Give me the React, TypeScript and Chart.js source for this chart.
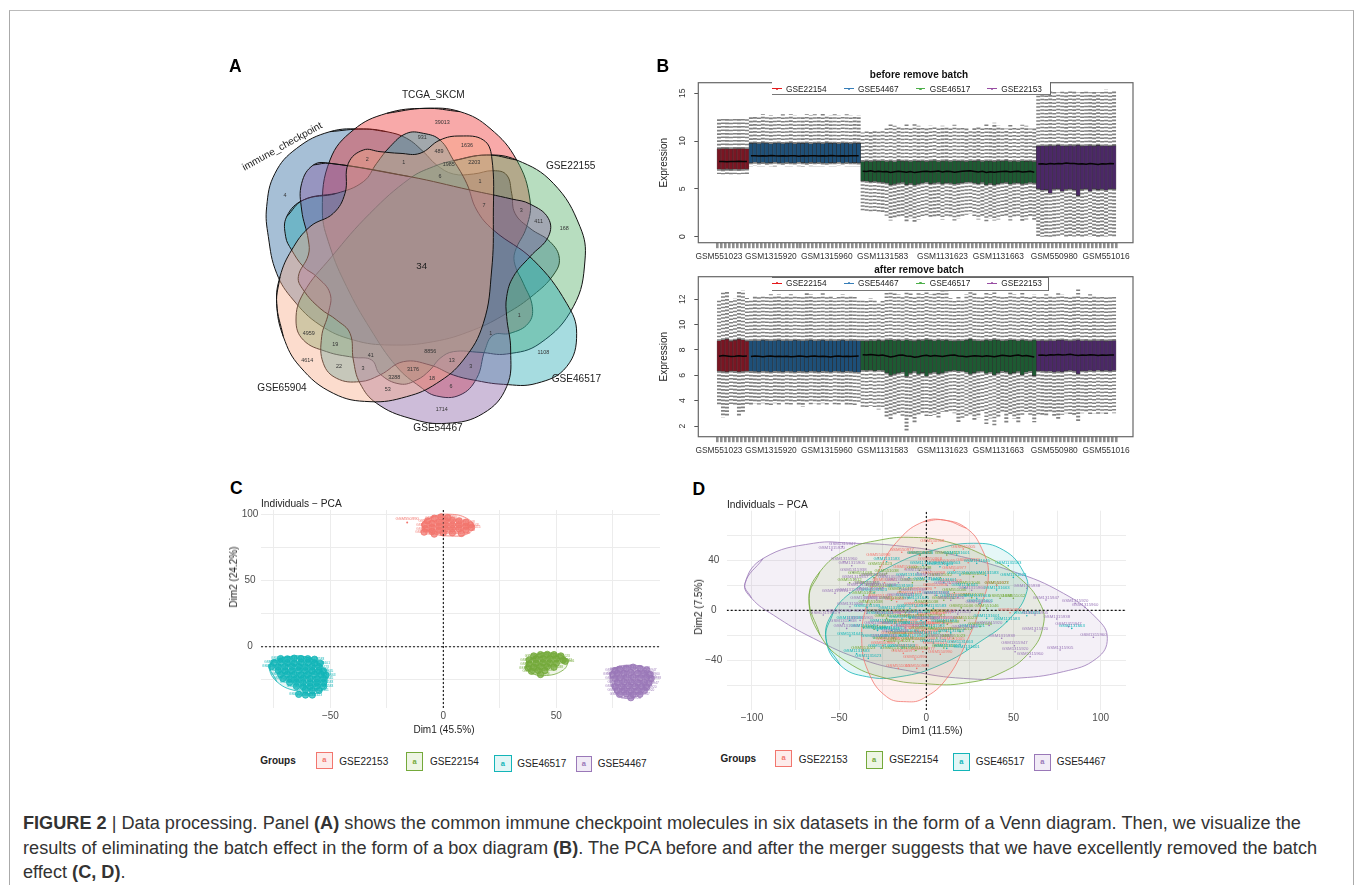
import React, { useEffect, useRef } from "react";
import { Chart, registerables } from "chart.js";
Chart.register(...registerables);

const FONT = "'Liberation Sans', Arial, sans-serif";

// ---------- Panel A : Venn outlines (axis units of a 0..1200 square)
const vennNames = ["TCGA_SKCM", "GSE22155", "GSE46517", "GSE54467", "GSE65904", "immune_checkpoint"];
const vennRed = [[615,175],[720,185],[810,235],[890,330],[930,450],[920,530],[885,605],[885,645],[910,700],[937,770],[925,820],[870,850],[820,855],[795,900],[770,985],[720,1035],[650,1038],[600,1010],[530,950],[450,835],[380,710],[330,590],[307,480],[330,330],[400,240],[500,190],[615,175]];
const vennGreen = [[800,315],[890,330],[1000,400],[1080,530],[1095,630],[1060,770],[960,880],[860,912],[780,907],[700,905],[660,925],[630,960],[590,990],[540,1002],[480,972],[455,930],[400,922],[320,905],[250,870],[228,810],[250,730],[335,620],[450,490],[570,385],[640,350],[700,332],[800,315]];
const vennTeal = [[250,450],[200,500],[197,560],[215,600],[250,650],[290,680],[330,730],[325,790],[305,860],[310,940],[350,985],[420,995],[480,975],[550,935],[630,945],[700,975],[760,990],[850,1003],[950,1000],[1040,950],[1070,850],[1040,760],[940,630],[820,540],[770,480],[740,400],[700,330],[660,270],[610,250],[560,250],[510,290],[470,340],[430,395],[350,430],[250,450]];
const vennPurple = [[330,340],[570,380],[750,420],[875,447],[930,462],[985,505],[985,560],[930,620],[880,680],[860,740],[860,800],[872,900],[860,1010],[790,1090],[680,1120],[570,1105],[470,1060],[420,1000],[400,930],[390,850],[350,810],[300,775],[250,720],[235,680],[265,615],[265,570],[245,480],[245,400],[280,345],[330,340]];
const vennOrange = [[170,760],[180,680],[215,600],[270,530],[340,490],[375,430],[385,340],[430,300],[480,305],[540,310],[600,310],[660,270],[720,258],[790,270],[815,320],[820,500],[815,660],[790,820],[730,930],[650,1000],[560,1040],[450,1055],[340,1030],[240,950],[190,860],[170,760]];
const vennBlue = [[430,237],[500,245],[560,265],[610,305],[650,345],[700,372],[760,372],[820,362],[860,375],[875,430],[885,490],[930,535],[990,575],[1018,625],[1000,675],[940,735],[860,790],[760,840],[640,875],[510,885],[400,870],[300,825],[220,750],[170,670],[145,560],[140,470],[165,370],[230,295],[330,245],[430,237]];
const vennCountText = ["39013","931","1636","489","2","1","1985","2203","6","1","4","7","3","411","168","1","1","4959","19","1108","8856","41","4614","13","22","3","3","3176","3288","18","53","6","1714"];
const vennCountPos = [[667,218],[607,263],[741,288],[657,306],[442,330],[551,339],[686,345],[763,339],[660,380],[780,394],[195,437],[792,466],[904,481],[956,516],[1033,537],[898,798],[812,850],[266,850],[346,884],[970,907],[631,904],[452,916],[262,932],[695,932],[357,951],[429,956],[752,949],[579,960],[523,984],[636,985],[503,1020],[693,1010],[665,1078]];
const vennNamePos = [[640,137],[1052,349],[1069,988],[654,1135],[186,1016],[187,290]];

// ---------- Panel B : box plots
const boxGroups = ["GSE22154", "GSE54467", "GSE46517", "GSE22153"];
const boxCounts = [8, 28, 44, 20];
const boxColors = ["#7a1522", "#1d4f78", "#1d5a32", "#4b2767"];
const legendColors = ["#e41a1c", "#377eb8", "#4daf4a", "#984ea3"];
const sampleTickIndex = [0, 13, 27, 41, 56, 70, 84, 97];
const sampleTickNames = ["GSM551023", "GSM1315920", "GSM1315960", "GSM1131583", "GSM1131623", "GSM1131663", "GSM550980", "GSM551016"];
const b1YTicks = [0, 5, 10, 15];
const b2YTicks = [2, 4, 6, 8, 10, 12];

const b1Top = [12.3,12.4,12.5,12.4,12.5,12.5,12.4,12.4,
12.6,12.7,12.6,12.8,12.7,12.7,12.6,12.7,12.8,12.7,12.8,12.7,12.6,12.6,12.8,12.7,12.8,12.7,12.9,12.7,12.7,12.8,12.7,12.6,12.8,12.7,12.7,12.7,
10.9,11.0,11.1,11.2,11.0,11.1,11.3,11.8,11.6,11.5,11.4,11.8,11.5,11.9,11.6,11.4,11.3,11.6,11.5,11.4,11.6,11.4,11.5,11.7,11.5,11.4,11.3,11.2,11.4,11.6,11.3,11.8,11.5,11.9,11.6,11.4,11.3,11.7,11.5,11.4,11.7,11.6,11.3,11.4,
15.0,15.2,15.1,15.3,15.2,15.1,15.2,15.1,15.2,15.2,15.1,15.2,15.3,15.1,15.2,15.1,15.3,15.4,15.2,15.2];
const b1Q3 = [9.18,9.22,9.2,9.19,9.21,9.2,9.22,9.19,
9.75,9.78,9.74,9.8,9.76,9.72,9.77,9.79,9.74,9.76,9.8,9.73,9.77,9.75,9.79,9.72,9.76,9.78,9.74,9.8,9.75,9.77,9.73,9.79,9.76,9.74,9.78,9.75,
7.85,7.9,7.84,7.92,7.88,7.94,7.86,7.9,7.83,7.95,7.88,7.9,7.85,7.93,7.87,7.91,7.84,7.9,7.96,7.86,7.89,7.92,7.85,7.94,7.88,7.9,7.84,7.93,7.87,7.95,7.86,7.91,7.89,7.84,7.92,7.88,7.95,7.86,7.9,7.85,7.93,7.87,7.9,7.84,
9.45,9.5,9.47,9.52,9.48,9.55,9.5,9.46,9.53,9.49,9.55,9.47,9.5,9.52,9.46,9.54,9.48,9.5,9.45,9.52];
const b1Q1 = [7.05,7.02,7.07,7.04,7.06,7.03,7.05,7.08,
7.74,7.78,7.72,7.76,7.7,7.75,7.78,7.73,7.69,7.76,7.74,7.71,7.78,7.75,7.7,7.77,7.73,7.76,7.72,7.68,7.75,7.74,7.78,7.71,7.76,7.73,7.75,7.72,
5.85,5.8,5.75,5.78,5.72,5.68,5.62,5.42,5.5,5.6,5.66,5.45,5.58,5.4,5.52,5.62,5.7,5.55,5.6,5.66,5.52,5.64,5.6,5.48,5.58,5.64,5.7,5.72,5.62,5.54,5.66,5.44,5.58,5.42,5.54,5.62,5.68,5.48,5.6,5.64,5.5,5.56,5.66,5.6,
5.0,4.85,4.92,4.55,4.98,5.02,4.75,4.95,5.0,4.9,4.3,4.95,5.02,4.78,5.0,4.92,4.98,4.85,5.02,4.98];
const b1Med = [7.85,7.87,7.84,7.86,7.85,7.88,7.85,7.86,
8.45,8.47,8.43,8.46,8.44,8.48,8.45,8.43,8.46,8.44,8.47,8.45,8.42,8.46,8.44,8.47,8.45,8.43,8.46,8.44,8.48,8.45,8.43,8.46,8.44,8.47,8.45,8.46,
6.85,6.82,6.88,6.8,6.84,6.78,6.82,6.72,6.78,6.84,6.8,6.74,6.82,6.7,6.76,6.82,6.84,6.78,6.82,6.86,6.76,6.84,6.82,6.74,6.8,6.84,6.86,6.88,6.82,6.76,6.84,6.72,6.8,6.74,6.78,6.82,6.84,6.76,6.82,6.84,6.76,6.8,6.84,6.74,
7.6,7.62,7.58,7.64,7.6,7.66,7.62,7.7,7.64,7.66,7.6,7.62,7.58,7.64,7.6,7.56,7.62,7.6,7.64,7.62];
const b1Bot = [6.55,6.52,6.56,6.54,6.55,6.53,6.56,6.54,
7.35,7.38,7.34,7.36,7.33,7.37,7.35,7.38,7.32,7.36,7.34,7.33,7.37,7.35,7.34,7.36,7.33,7.37,7.35,7.32,7.36,7.34,7.38,7.33,7.36,7.35,7.37,7.34,
2.7,2.6,2.6,2.5,2.5,2.4,2.2,1.7,1.9,2.1,2.0,1.6,1.9,1.5,1.8,2.1,2.2,1.9,2.0,2.2,1.8,2.1,2.0,1.7,1.9,2.1,2.3,2.4,2.1,1.8,2.0,1.6,1.9,1.7,1.8,2.0,2.2,1.7,2.0,2.1,1.5,1.8,2.0,1.7,
0.02,0.0,0.03,0.0,0.02,0.0,0.01,0.03,0.0,0.02,0.0,0.01,0.03,0.0,0.02,0.0,0.01,0.03,0.0,0.02];

const b2Top = [12.0,12.6,12.7,12.0,12.1,12.6,12.7,12.1,
11.9,12.3,12.2,12.3,12.3,12.4,12.3,12.4,12.3,12.2,12.4,12.3,12.2,12.2,12.5,12.4,12.3,12.2,12.5,12.3,12.2,12.1,12.3,12.4,12.2,12.3,12.2,12.0,
12.0,11.9,12.1,12.0,11.8,12.0,12.7,12.6,12.5,12.4,12.3,12.9,12.5,12.3,12.6,12.4,12.8,12.4,12.5,12.8,12.7,12.7,12.1,12.0,12.2,12.0,12.4,12.8,12.5,12.3,12.2,12.6,12.4,12.9,12.3,12.2,12.3,12.6,12.4,12.3,12.8,12.3,12.2,12.4,
12.2,12.3,12.4,12.3,12.2,12.6,12.4,12.3,12.2,12.3,12.8,12.3,12.2,12.4,12.3,12.2,12.3,12.2,12.3,12.2];
const b2Q3 = [8.72,8.8,8.85,8.7,8.76,8.85,8.8,8.7,
8.72,8.75,8.73,8.76,8.74,8.72,8.75,8.77,8.73,8.75,8.72,8.76,8.74,8.73,8.75,8.77,8.72,8.74,8.76,8.73,8.75,8.72,8.74,8.76,8.73,8.75,8.74,8.72,
8.72,8.7,8.74,8.72,8.76,8.7,8.78,8.8,8.74,8.76,8.72,8.8,8.74,8.7,8.76,8.74,8.82,8.76,8.72,8.78,8.74,8.76,8.72,8.7,8.74,8.72,8.76,8.84,8.74,8.72,8.7,8.78,8.74,8.82,8.76,8.72,8.74,8.8,8.76,8.72,8.78,8.74,8.7,8.78,
8.72,8.74,8.7,8.75,8.72,8.76,8.78,8.74,8.7,8.75,8.78,8.72,8.74,8.7,8.75,8.72,8.74,8.7,8.72,8.74];
const b2Q1 = [6.34,6.3,6.28,6.35,6.32,6.28,6.3,6.35,
6.32,6.3,6.28,6.33,6.3,6.27,6.32,6.3,6.28,6.33,6.3,6.27,6.32,6.3,6.28,6.33,6.3,6.28,6.32,6.3,6.27,6.33,6.3,6.28,6.32,6.3,6.27,6.25,
6.4,6.38,6.42,6.36,6.4,6.38,6.2,6.0,6.1,6.2,6.25,5.92,6.18,6.3,6.1,6.22,5.95,6.18,6.26,6.12,6.2,6.3,6.36,6.38,6.32,6.36,6.25,6.1,6.22,6.3,6.35,6.15,6.25,6.05,6.2,6.32,6.28,6.12,6.22,6.3,6.05,6.24,6.32,5.98,
6.36,6.34,6.3,6.32,6.26,6.3,6.28,6.36,6.38,6.34,6.12,6.36,6.34,6.38,6.35,6.4,6.36,6.38,6.35,6.38];
const b2Med = [7.5,7.56,7.52,7.48,7.5,7.54,7.5,7.52,
7.48,7.52,7.5,7.47,7.5,7.53,7.49,7.51,7.48,7.5,7.46,7.49,7.52,7.5,7.47,7.5,7.53,7.49,7.51,7.48,7.44,7.5,7.52,7.49,7.51,7.48,7.5,7.52,
7.62,7.6,7.64,7.6,7.56,7.6,7.52,7.44,7.5,7.58,7.6,7.52,7.5,7.42,7.46,7.54,7.58,7.5,7.56,7.52,7.48,7.54,7.58,7.6,7.52,7.5,7.46,7.5,7.54,7.52,7.48,7.54,7.5,7.46,7.52,7.58,7.54,7.5,7.56,7.6,7.52,7.56,7.5,7.44,
7.58,7.6,7.56,7.62,7.6,7.64,7.6,7.62,7.66,7.6,7.56,7.6,7.58,7.62,7.6,7.56,7.6,7.58,7.6,7.6];
const b2Bot = [3.6,2.7,2.8,3.7,3.6,2.7,3.0,3.7,
3.7,3.8,3.7,3.8,3.7,3.6,3.8,3.7,3.8,3.6,3.7,3.8,3.7,3.5,3.8,3.7,3.8,3.7,3.8,3.7,3.8,3.6,3.7,3.8,3.7,3.7,3.6,3.8,
3.5,3.4,3.6,3.5,3.3,3.4,2.7,2.5,2.8,3.0,2.7,1.6,2.6,2.3,2.9,3.0,2.7,2.8,2.9,2.6,3.1,3.0,3.2,3.0,2.2,2.6,2.8,2.9,2.5,2.7,3.1,2.0,2.6,2.0,2.7,3.0,2.2,2.9,2.6,2.3,2.8,3.1,2.9,2.3,
2.9,2.8,2.8,3.0,2.7,2.5,2.9,3.0,2.9,2.8,2.3,3.0,3.1,2.9,3.0,2.9,3.0,2.9,3.1,3.0];

// ---------- Panels C, D : PCA
const pcaGroups = ["GSE22153", "GSE22154", "GSE46517", "GSE54467"];
const pcaColors = ["#f2766e", "#74a93a", "#13b5b8", "#9a78b8"];
const pcaTints = ["#fdeceb", "#eef5e4", "#e2f6f6", "#f1ebf6"];
const cGridX = [-75, -50, -25, 0, 25, 50, 75];
const cGridY = [-25, 0, 25, 50, 75, 100];
const cLabelX = [-50, 0, 50];
const cLabelY = [0, 50, 100];
const dGridX = [-100, -75, -50, -25, 0, 25, 50, 75, 100];
const dGridY = [-60, -40, -20, 0, 20, 40, 60];
const dLabelX = [-100, -50, 0, 50, 100];
const dLabelY = [-40, 0, 40];
const groupIds = [
  ["GSM550968", "GSM551005", "GSM550977", "GSM550990", "GSM551015"],
  ["GSM551023", "GSM551038", "GSM551012", "GSM551046"],
  ["GSM1131583", "GSM1131623", "GSM1131663", "GSM1131601", "GSM1131645"],
  ["GSM1315947", "GSM1315920", "GSM1315960", "GSM1315905", "GSM1315938"],
];

const cOutlier = [[-16,93.7]];
const cOutlierId = ["GSM550990"];
const cRed = [[-7,95],[-4,97],[-1,98],[2,97.5],[-8,92],[-5,93],[-2,94],[1,95],[4,95.5],[7,95],[10,94],[12,92],[-8,89],[-5,90],[-2,91],[1,92],[4,92],[7,92],[10,91],[12.5,90],[-8.5,86.5],[-5,87],[-2,88],[1,89],[4,89],[7,89],[10,88],[-4,85],[0,86],[4,86],[8,85.5]];
const cGreen = [[40,-7],[43,-6],[46,-5.8],[49,-6],[52,-7],[38,-10],[41,-9.5],[44,-9],[47,-9],[50,-9],[53,-10],[54,-11],[38,-13],[41,-12.5],[44,-12],[47,-12],[50,-12.5],[37.5,-16],[40,-15.5],[43,-15],[46,-15],[49,-15.5],[39,-18.5],[42,-18],[45,-18],[43,-21]];
const cTeal = [[-72,-9],[-69,-9.2],[-66,-8.7],[-63,-9],[-60,-9.1],[-57,-9.5],[-75,-12],[-72,-11.8],[-69,-12],[-66,-12.2],[-63,-11.8],[-60,-12],[-57,-12.3],[-54.5,-12.5],[-76,-15],[-73,-15.2],[-70,-15],[-67,-14.8],[-64,-15],[-61,-15.2],[-58,-15],[-55,-15.3],[-73,-18],[-70,-18.2],[-67,-18],[-64,-17.8],[-61,-18],[-58,-18.2],[-55,-18],[-53,-18.5],[-72,-21],[-69,-20.8],[-66,-21],[-63,-21.2],[-60,-21],[-57,-20.8],[-54,-21],[-52,-21.5],[-71,-24],[-68,-24.2],[-65,-24],[-62,-23.8],[-59,-24],[-56,-24.2],[-53,-24],[-68,-27],[-65,-26.8],[-62,-27],[-59,-27.2],[-56,-27],[-53,-27],[-65,-30],[-62,-30.2],[-59,-30],[-56,-29.8],[-53,-30],[-61,-32.5],[-58,-33],[-55,-33],[-64,-36],[-61,-36.5],[-58,-36.5]];
const cPurple = [[76,-18],[78,-17],[81,-16.5],[84,-15.5],[87,-16.5],[90,-17.5],[75,-21],[77,-20],[80,-20],[83,-19.5],[86,-20],[89,-20],[91.5,-21],[76,-24],[78,-23.5],[81,-23],[84,-23],[87,-23.5],[90,-23],[92,-24],[77,-27],[80,-26.5],[83,-26.5],[86,-27],[89,-27],[91,-27.5],[76,-30],[79,-30],[82,-29.5],[85,-30],[88,-30],[90,-30.5],[77,-33],[80,-32.5],[83,-33],[86,-33],[89,-33],[78,-36],[81,-35.5],[84,-36],[87,-36],[83,-38.5]];
const cEllRed = [[-9.6,92],[-4.4,98.2],[2.9,100],[10.3,97],[13.3,90.7],[10.3,84.9],[2.9,83.6],[-4.4,85.6],[-9.6,92]];
const cEllGreen = [[36.9,-13.9],[41.3,-6.3],[48.7,-5],[54.6,-10],[53.1,-17.6],[44.2,-21.9],[38.3,-18.9],[36.9,-13.9]];
const cEllTeal = [[-76.7,-13.9],[-70.8,-8.3],[-59,-8.8],[-51.6,-21.4],[-54.6,-34],[-63.4,-34],[-73.7,-26.4],[-76.7,-13.9]];
const cEllPurple = [[74.5,-18.9],[83.3,-13.9],[91.4,-18.9],[92.2,-26.4],[88.5,-34],[81.9,-39],[76,-34],[74.5,-18.9]];

const dRed = [[3.4,53.5],[21.2,48.9],[-14.1,46.3],[-27.5,42],[9.8,37.5],[4,28.2],[13.6,21.5],[40.3,19.7],[48,-1.9],[-7.5,-13],[-18.9,-19.7],[-11.3,-30.3],[-13.2,-34.3],[-6.5,-38.8],[-16.1,-46.3],[-5.5,-46.3],[0.2,-9],[7.8,-3.7],[-3.6,-19.7],[11.7,-17],[2.1,38.8],[-26.6,9.6],[-17,6.9],[-3.6,14.9],[-9.4,-14.4],[-1.7,-25],[-2,-13],[3,-12],[-6,-16],[8,-12],[-12,-10],[15,-25],[-20,-12],[-25,-28],[5,-28],[-8,-6],[2,-5],[-14,-24],[-4,44],[14,-8],[-6,3],[10,-2],[18,10],[-15,-3],[-10,12],[5,18],[-22,-25],[-2,-33],[8,-35],[-10,-20],[0,-18],[-24,22],[16,32],[24,38],[-12,33]];
const dGreen = [[-26.6,34.8],[-22.8,29.5],[27,26.9],[24.1,20.2],[40.3,20.2],[42.3,9.6],[49.9,9.6],[34.6,1.6],[-36.1,-31.6],[-18.9,-31.6],[19.3,-17],[30.8,-13],[7.8,-17],[-26.6,17.6],[-15.1,14.9],[-34.2,20.2],[-22.8,-6.4],[-9.4,-6.4],[4,-6.4],[-7.5,-25],[15.5,-22.3],[-3.6,44.1],[11.7,44.1],[-30,-15],[-15,-20],[0,5],[10,8],[20,2],[-8,22],[-32,5],[-2,-16],[6,-22],[-18,-10],[12,-11],[-36,12],[-28,-2],[-20,8],[-12,-2],[6,-2],[16,14],[26,10],[-4,32],[8,26],[-30,26],[-16,-26],[-6,-32],[10,-30],[-24,-24],[22,-8],[-38,28],[-44,22]];
const dTeal = [[-22.8,38.8],[-3.6,44.1],[7.8,34.8],[17.4,44.1],[28.9,37.5],[47,35.6],[49.9,26.3],[40.3,16.2],[19.3,28.2],[0.2,22.9],[-15.1,17.6],[-26.6,-3.7],[-17,-11.7],[-22.8,-17],[-43.8,-20.5],[-40,-34.6],[-33.3,-38.3],[19.3,-27.1],[23.1,-30.9],[11.7,-30.3],[46.1,-9],[57.6,-4.3],[83.4,-14.4],[34.6,-6.4],[-9.4,1.6],[4,1.6],[15.5,9.6],[28.9,9.6],[30.8,5.6],[0.2,-19.7],[-7.5,-11.7],[-18.9,-22.3],[-12,-18],[-5,-3],[-25,-10],[10,-10],[-3,-8],[-30,-22],[-14,-7],[-20,-16],[3,-14],[-28,-16],[-10,26],[6,12],[-6,8],[-34,2],[-20,0],[-10,10],[10,22],[22,18],[34,28],[-30,14],[12,36],[-26,-30],[-8,-22],[-14,-30],[4,-26],[14,-18],[26,-14],[-36,-14],[-44,-8],[-2,36]];
const dPurple = [[-48.2,50.8],[-54.3,48.1],[-47.2,38.8],[-42.8,35.6],[-41.9,30.3],[-40.9,25],[-52.4,13.6],[-43.8,2.9],[-59.1,-3.7],[-47.6,-10.4],[-45.7,-14.4],[-32.3,14.9],[-28.5,8.2],[-34.2,-2.4],[57.6,17.6],[68.6,8.2],[85.3,5.6],[91,2.4],[62.3,-3.7],[74.8,-6.9],[81.5,-13],[62.3,-16.5],[95.8,-21.5],[76.7,-31.6],[43.2,-22.3],[50.5,-28.2],[50.9,-33],[59.5,-37],[-34.2,20.2],[-25,18],[-20,25],[-15,10],[-10,-3],[0,-8],[5,12],[12,20],[18,-3],[22,-15],[-5,30],[-18,-18],[-28,-12],[8,-22],[30,5],[-38,-8],[-36,8],[-30,26],[-44,14],[-22,-4],[-16,22],[-8,14],[2,26],[14,8],[26,16],[-24,-22],[-12,-14],[10,-8],[36,-12],[-50,-2],[-38,18]];
const dEllRed = [[9.8,72.1],[23.1,65.4],[31.7,49.5],[35.6,28.2],[30.8,1.6],[23.1,-25],[11.7,-54.3],[-1.7,-70.2],[-11.3,-72.9],[-22.8,-68.9],[-33.3,-48.9],[-37.1,-22.3],[-34.2,4.3],[-26.6,33.5],[-15.1,57.4],[-1.7,70.7],[9.8,72.1]];
const dEllGreen = [[-67.3,9.6],[-61,30.9],[-45.7,48.1],[-26.6,56.1],[-7.5,58.2],[11.7,54.8],[34.6,42.8],[53.7,25.5],[65.2,5.6],[67.1,-11.7],[59.5,-33],[42.3,-50.3],[21.2,-58.2],[2.1,-58.8],[-22.8,-54.3],[-45.7,-41],[-61,-19.7],[-67.3,9.6]];
const dEllTeal = [[-57.6,-22.3],[-53.3,-1.1],[-40,17.6],[-18.9,36.2],[4,48.1],[27,53.5],[44.2,48.1],[55.6,30.9],[57.6,14.9],[48,-6.4],[30.8,-25],[7.8,-43.6],[-15.1,-52.9],[-34.2,-52.9],[-49.5,-43.6],[-57.6,-22.3]];
const dEllPurple = [[-104,21.5],[-93.5,41.5],[-64.8,53.5],[-41.9,53.5],[-17,51.6],[11.7,45.5],[49.9,30.9],[78.6,13.6],[97.7,-6.4],[103.8,-22.3],[97.7,-38.3],[78.6,-48.9],[49.9,-54.3],[21.2,-54.3],[-7.5,-48.9],[-36.1,-39.6],[-64.8,-22.3],[-87.8,-3.7],[-100.2,9.6],[-104,21.5]];

const captionLines = [
  [["FIGURE 2", true], [" | Data processing. Panel ", false], ["(A)", true], [" shows the common immune checkpoint molecules in six datasets in the form of a Venn diagram. Then, we visualize the", false]],
  [["results of eliminating the batch effect in the form of a box diagram ", false], ["(B)", true], [". The PCA before and after the merger suggests that we have excellently removed the batch", false]],
  [["effect ", false], ["(C, D)", true], [".", false]],
];
const captionY = [822.7, 847.5, 871.7];

// ---------- helpers
const xy = (a: number[][]) => a.map(([x, y]) => ({ x, y }));
// the outline is traced once more past its seam, so the spline has no corner there
const loop = (a: number[][]) => xy([a[a.length - 2], ...a, a[1]]);

const pointTextPlugin = {
  id: "pointText",
  afterDatasetsDraw(chart: any) {
    const { ctx, scales } = chart;
    chart.data.datasets.forEach((ds: any) => {
      if (!ds.texts) return;
      ctx.save();
      ctx.font = ds.textFont;
      ctx.fillStyle = ds.textColor;
      ctx.textAlign = "center";
      ctx.textBaseline = "middle";
      ds.data.forEach((p: any, i: number) => {
        const t = ds.texts[i % ds.texts.length];
        const px = scales.x.getPixelForValue(p.x);
        const py = scales.y.getPixelForValue(p.y) + (ds.textDy || 0);
        ctx.save();
        ctx.translate(px, py);
        const rot = ds.textRot && ds.textRot[i];
        if (rot) ctx.rotate((rot * Math.PI) / 180);
        ctx.fillText(t, 0, 0);
        ctx.restore();
      });
      ctx.restore();
    });
  },
};

function vennConfig() {
  const shape = (data: number[][], color: string, label: string) => ({
    type: "scatter", label, data: loop(data), showLine: true, borderColor: "#111", borderWidth: 1,
    backgroundColor: color, fill: "shape", tension: 0.42, pointRadius: 0,
  });
  return {
    type: "scatter",
    data: {
      datasets: [
        { label: "set names", data: xy(vennNamePos), pointRadius: 0, texts: vennNames, textFont: `10.1px ${FONT}`, textColor: "#222", textRot: [0, 0, 0, 0, 0, -29] },
        { label: "counts", data: xy(vennCountPos), pointRadius: 0, texts: vennCountText, textFont: `5.4px ${FONT}`, textColor: "#333" },
        { label: "centre", data: [{ x: 605, y: 648 }], pointRadius: 0, texts: ["34"], textFont: `9.8px ${FONT}`, textColor: "#222" },
        shape(vennOrange, "rgba(247,167,130,0.4)", vennNames[4]),
        shape(vennPurple, "rgba(130,87,160,0.4)", vennNames[3]),
        shape(vennTeal, "rgba(32,167,177,0.4)", vennNames[2]),
        shape(vennGreen, "rgba(75,170,95,0.4)", vennNames[1]),
        shape(vennRed, "rgba(237,40,40,0.4)", vennNames[0]),
        shape(vennBlue, "rgba(32,95,152,0.4)", vennNames[5]),
      ],
    },
    options: {
      responsive: false, animation: false,
      layout: { padding: 0 },
      plugins: { legend: { display: false }, tooltip: { enabled: false } },
      scales: {
        x: { type: "linear", min: 0, max: 1200, display: false },
        y: { type: "linear", min: 0, max: 1200, reverse: true, display: false },
      },
    },
    plugins: [pointTextPlugin],
  };
}

const rotYLabels = (tickList: number[], xCenter: number) => ({
  id: "rotY",
  afterDraw(chart: any) {
    const { ctx, scales } = chart;
    ctx.save();
    ctx.font = `8.6px ${FONT}`;
    ctx.fillStyle = "#333";
    ctx.textAlign = "center";
    ctx.textBaseline = "middle";
    tickList.forEach((v) => {
      ctx.save();
      ctx.translate(xCenter, scales.y.getPixelForValue(v));
      ctx.rotate(-Math.PI / 2);
      ctx.fillText(String(v), 0, 0);
      ctx.restore();
    });
    ctx.restore();
  },
});

const frame = {
  id: "frame",
  afterDraw(chart: any) {
    const { ctx, chartArea: a } = chart;
    ctx.save();
    ctx.strokeStyle = "#666";
    ctx.lineWidth = 1.2;
    ctx.strokeRect(a.left, a.top, a.right - a.left, a.bottom - a.top);
    ctx.restore();
  },
};

const whiskers = (q1: number[], q3: number[], top: number[], bot: number[]) => ({
  id: "whiskers",
  beforeDatasetsDraw(chart: any) {
    const { ctx, scales } = chart;
    const w = scales.x.getPixelForValue(1) - scales.x.getPixelForValue(0);
    ctx.save();
    ctx.strokeStyle = "#808080";
    ctx.lineWidth = w;
    ctx.setLineDash([1.6, 1.9]);
    q1.forEach((_, i) => {
      const x = scales.x.getPixelForValue(i);
      ctx.beginPath();
      ctx.moveTo(x, scales.y.getPixelForValue(q3[i]));
      ctx.lineTo(x, scales.y.getPixelForValue(top[i]));
      ctx.moveTo(x, scales.y.getPixelForValue(q1[i]));
      ctx.lineTo(x, scales.y.getPixelForValue(bot[i]));
      ctx.stroke();
    });
    ctx.restore();
  },
});

function boxConfig(q1: number[], q3: number[], med: number[], top: number[], bot: number[], yMin: number, yMax: number, yTicks: number[]) {
  const datasets: any[] = [];
  let start = 0;
  boxGroups.forEach((g, k) => {
    const n = boxCounts[k];
    const idx = q1.map((_, i) => i).slice(start, start + n);
    datasets.push({ type: "bar", label: g, order: 2, grouped: false, data: idx.map((i) => ({ x: i, y: [q1[i], q3[i]] })), backgroundColor: boxColors[k], borderColor: "rgba(10,10,10,0.75)", borderWidth: 0.6, borderSkipped: false, barPercentage: 1, categoryPercentage: 1 });
    datasets.push({ type: "line", label: g + " median", order: 1, data: idx.map((i) => ({ x: i, y: med[i] })), borderColor: "#050505", borderWidth: 1.5, pointRadius: 0, tension: 0 });
    start += n;
  });
  const allIdx = q1.map((_, i) => i);
  return {
    type: "bar",
    data: { datasets },
    options: {
      responsive: false, animation: false,
      layout: { padding: { left: 0, right: 17, top: 22.7, bottom: 0 } },
      plugins: { legend: { display: false }, tooltip: { enabled: false } },
      scales: {
        x: {
          type: "linear", min: -4.64, max: 103.2,
          afterFit: (s: any) => { s.height = 22.3; },
          afterBuildTicks: (s: any) => { s.ticks = allIdx.map((value) => ({ value })); },
          grid: { drawOnChartArea: false, drawTicks: true, tickLength: 5.5, color: "#8f8f8f", lineWidth: 2.6 },
          border: { display: false },
          ticks: {
            autoSkip: false, maxRotation: 0, minRotation: 0, padding: 3.5, color: "#333",
            font: { family: FONT, size: 8.4 },
            callback: (v: number) => { const k = sampleTickIndex.indexOf(v); return k >= 0 ? sampleTickNames[k] : ""; },
          },
        },
        y: {
          type: "linear", min: yMin, max: yMax,
          afterFit: (s: any) => { s.width = 58.3; },
          afterBuildTicks: (s: any) => { s.ticks = yTicks.map((value) => ({ value })); },
          grid: { drawOnChartArea: false, drawTicks: true, tickLength: 4, color: "#555" },
          border: { display: false },
          ticks: { display: false },
          title: { display: true, text: "Expression", color: "#222", font: { family: FONT, size: 10 }, padding: { top: 18, bottom: 0 } },
        },
      },
    },
    plugins: [whiskers(q1, q3, top, bot), rotYLabels(yTicks, 43), frame],
  };
}

function pcaConfig(points: number[][][], ellipses: number[][][], xMin: number, xMax: number, yMin: number, yMax: number, gridX: number[], gridY: number[], labelX: number[], labelY: number[], pad: any, xH: number, yW: number, yPad: number, xPad: number, solid: boolean) {
  const datasets: any[] = [];
  pcaGroups.forEach((g, k) => {
    const c = pcaColors[k];
    datasets.push({
      type: "scatter", label: g, data: xy(points[k]), showLine: false, order: 1,
      pointRadius: solid ? 3.2 : 0.8, pointBorderWidth: solid ? 0.8 : 0,
      pointBackgroundColor: solid ? c + "bb" : c, pointBorderColor: c,
      texts: groupIds[k], textFont: `${solid ? 3.2 : 4.3}px ${FONT}`, textColor: c, textDy: solid ? 0 : -2.5,
    });
    datasets.push({
      type: "scatter", label: g + " ellipse", data: loop(ellipses[k]), showLine: true, order: 3,
      borderColor: c, borderWidth: 0.8, backgroundColor: c + "1c", fill: "shape", tension: 0.45, pointRadius: 0,
    });
  });
  if (solid) {
    datasets.push({ type: "scatter", label: "outlier", data: xy(cOutlier), showLine: false, order: 1, pointRadius: 1, pointBorderWidth: 0, pointBackgroundColor: pcaColors[0], texts: cOutlierId, textFont: `4.2px ${FONT}`, textColor: pcaColors[0], textDy: -3.5 });
  }
  datasets.push({ type: "scatter", label: "x=0", data: [{ x: xMin, y: 0 }, { x: xMax, y: 0 }], showLine: true, borderColor: "#111", borderWidth: 1.1, borderDash: [2, 2], pointRadius: 0, order: 0 });
  datasets.push({ type: "scatter", label: "y=0", data: [{ x: 0, y: yMin }, { x: 0, y: yMax }], showLine: true, borderColor: "#111", borderWidth: 1.1, borderDash: [2, 2], pointRadius: 0, order: 0 });
  return {
    type: "scatter",
    data: { datasets },
    options: {
      responsive: false, animation: false,
      layout: { padding: pad },
      plugins: { legend: { display: false }, tooltip: { enabled: false } },
      scales: {
        x: {
          type: "linear", min: xMin, max: xMax,
          afterFit: (s: any) => { s.height = xH; },
          afterBuildTicks: (s: any) => { s.ticks = gridX.map((value) => ({ value })); },
          grid: { color: "#ececec", lineWidth: 1, drawTicks: false },
          border: { display: false },
          ticks: { autoSkip: false, maxRotation: 0, minRotation: 0, padding: xPad, color: "#4d4d4d", font: { family: FONT, size: 10 },
            callback: (v: number) => (labelX.includes(v) ? String(v).replace("-", "\u2212") : "") },
        },
        y: {
          type: "linear", min: yMin, max: yMax,
          afterFit: (s: any) => { s.width = yW; },
          afterBuildTicks: (s: any) => { s.ticks = gridY.map((value) => ({ value })); },
          grid: { color: "#ececec", lineWidth: 1, drawTicks: false },
          border: { display: false },
          ticks: { autoSkip: false, crossAlign: "center", padding: yPad, color: "#4d4d4d", font: { family: FONT, size: 10 },
            callback: (v: number) => (labelY.includes(v) ? String(v).replace("-", "\u2212") : "") },
        },
      },
    },
    plugins: [pointTextPlugin],
  };
}

function ChartBox({ left, top, width, height, config }: any) {
  const ref = useRef<HTMLCanvasElement>(null);
  useEffect(() => {
    const chart = new Chart(ref.current as any, config());
    return () => chart.destroy();
  }, []);
  return <canvas ref={ref} width={width} height={height} style={{ position: "absolute", left, top, width, height, display: "block" }} />;
}

function Txt({ x, y, children, size = 10, bold = false, color = "#222", rot = 0, center = false }: any) {
  return (
    <div style={{ position: "absolute", left: x, top: y, whiteSpace: "nowrap", fontFamily: FONT, fontSize: size, fontWeight: bold ? 700 : 400, color, lineHeight: 1,
      transform: `translate(${center ? "-50%" : "0"}, -50%) rotate(${rot}deg)` }}>{children}</div>
  );
}

function BoxLegend({ top, rowY, right, topBorder }: any) {
  const keyX = [772, 844, 915.7, 987.3];
  return (
    <>
      <div style={{ position: "absolute", left: 772, top, width: right - 772, height: rowY + 5.5 - top, background: "#fff", borderRight: "1px solid #666", borderBottom: "1.4px solid #777", borderTop: topBorder ? "1px solid #666" : "none" }} />
      {boxGroups.map((g, k) => (
        <React.Fragment key={g}>
          <div style={{ position: "absolute", left: keyX[k], top: rowY - 0.5, width: 9.5, height: 1, background: legendColors[k] }} />
          <div style={{ position: "absolute", left: keyX[k] + 3.7, top: rowY - 1.1, width: 2.2, height: 2.2, borderRadius: 2, background: legendColors[k] }} />
          <Txt x={keyX[k] + 14} y={rowY} size={8.3} color="#222">{g}</Txt>
        </React.Fragment>
      ))}
    </>
  );
}

function GroupLegend({ gx, gy, boxes, texts }: any) {
  return (
    <>
      <Txt x={gx} y={gy} bold center size={10} color="#222">Groups</Txt>
      {pcaGroups.map((g, k) => {
        const [l, t, w, h] = boxes[k];
        return (
          <React.Fragment key={g}>
            <div style={{ position: "absolute", left: l, top: t, width: w, height: h, boxSizing: "border-box", border: `1.3px solid ${pcaColors[k]}`, background: pcaTints[k] }} />
            <Txt x={l + w / 2} y={t + h / 2} center size={7.5} bold color={pcaColors[k]}>a</Txt>
            <Txt x={texts[k][0]} y={texts[k][1]} size={10} color="#222">{g}</Txt>
          </React.Fragment>
        );
      })}
    </>
  );
}

export default function App() {
  return (
    <div style={{ position: "absolute", left: 0, top: 0, width: 1355, height: 885, overflow: "hidden", background: "#fff", filter: "blur(0.3px)" }}>
      <div style={{ position: "absolute", left: 9, top: 10, width: 1345, height: 875, boxSizing: "border-box", borderLeft: "1.2px solid #aaa", borderTop: "1.2px solid #bbb", borderRight: "1.2px solid #aaa" }} />

      <ChartBox left={220} top={50} width={400} height={400} config={vennConfig} />
      <ChartBox left={640} top={60} width={510} height={205} config={() => boxConfig(b1Q1, b1Q3, b1Med, b1Top, b1Bot, -0.63, 16.1, b1YTicks)} />
      <ChartBox left={640} top={254} width={510} height={205} config={() => boxConfig(b2Q1, b2Q3, b2Med, b2Top, b2Bot, 1.16, 13.78, b2YTicks)} />
      <Txt x={919} y={75} center bold size={10} color="#111">before remove batch</Txt>
      <Txt x={919} y={270} center bold size={10} color="#111">after remove batch</Txt>
      <BoxLegend top={82} rowY={88.7} right={1049.5} topBorder={false} />
      <BoxLegend top={276.7} rowY={283.3} right={1047.7} topBorder={true} />

      <ChartBox left={235} top={500} width={440} height={225} config={() => pcaConfig([cRed, cGreen, cTeal, cPurple], [cEllRed, cEllGreen, cEllTeal, cEllPurple], -80.7, 95.9, -46.3, 103.2, cGridX, cGridY, cLabelX, cLabelY, { left: 0, right: 15, top: 10, bottom: 0 }, 17, 26, 2.6, 2.6, true)} />
      <ChartBox left={700} top={500} width={440} height={230} config={() => pcaConfig([dRed, dGreen, dTeal, dPurple], [dEllRed, dEllGreen, dEllTeal, dEllPurple], -114.5, 114.5, -79.5, 79.5, dGridX, dGridY, dLabelX, dLabelY, { left: 0, right: 14, top: 10.7, bottom: 0 }, 20, 26.7, 4.5, 2.6, false)} />

      <Txt x={229} y={66.7} size={17.5} bold color="#000">A</Txt>
      <Txt x={656.5} y={66.7} size={17.5} bold color="#000">B</Txt>
      <Txt x={230} y={489} size={17.5} bold color="#000">C</Txt>
      <Txt x={692.5} y={490} size={17.5} bold color="#000">D</Txt>

      <Txt x={261} y={503.7} size={10.2}>{"Individuals \u2212 PCA"}</Txt>
      <Txt x={727} y={505} size={10.2}>{"Individuals \u2212 PCA"}</Txt>
      <Txt x={444} y={729.7} center size={10}>Dim1 (45.5%)</Txt>
      <Txt x={932.3} y={731.3} center size={10}>Dim1 (11.5%)</Txt>
      <Txt x={234} y={576.7} center size={10} rot={-90}>Dim2 (24.2%)</Txt>
      <Txt x={699} y={606.7} center size={10} rot={-90}>Dim2 (7.5%)</Txt>

      <GroupLegend gx={278} gy={760.7} boxes={[[316, 751.7, 16.7, 17.3], [406, 752.3, 17.3, 18.4], [494, 755, 17.7, 17.3], [576, 755.7, 15.7, 16.6]]} texts={[[339.3, 761.7], [430, 762], [517.3, 763.7], [597.7, 764]]} />
      <GroupLegend gx={738.3} gy={758.7} boxes={[[775, 749.7, 17.3, 17.3], [865.7, 751.3, 17, 17.4], [953, 753.3, 16.7, 17.4], [1034, 753.7, 16.7, 17.3]]} texts={[[798.7, 759.7], [889.3, 760], [975.7, 761.7], [1056.7, 762]]} />

      {captionLines.map((line: any, i) => (
        <div key={i} style={{ position: "absolute", left: 23, top: captionY[i], transform: "translateY(-50%)", whiteSpace: "nowrap", fontFamily: FONT, fontSize: 18.15, color: "#333", lineHeight: 1 }}>
          {line.map((seg: any, j: number) => <span key={j} style={{ fontWeight: seg[1] ? 700 : 400 }}>{seg[0]}</span>)}
        </div>
      ))}
    </div>
  );
}
